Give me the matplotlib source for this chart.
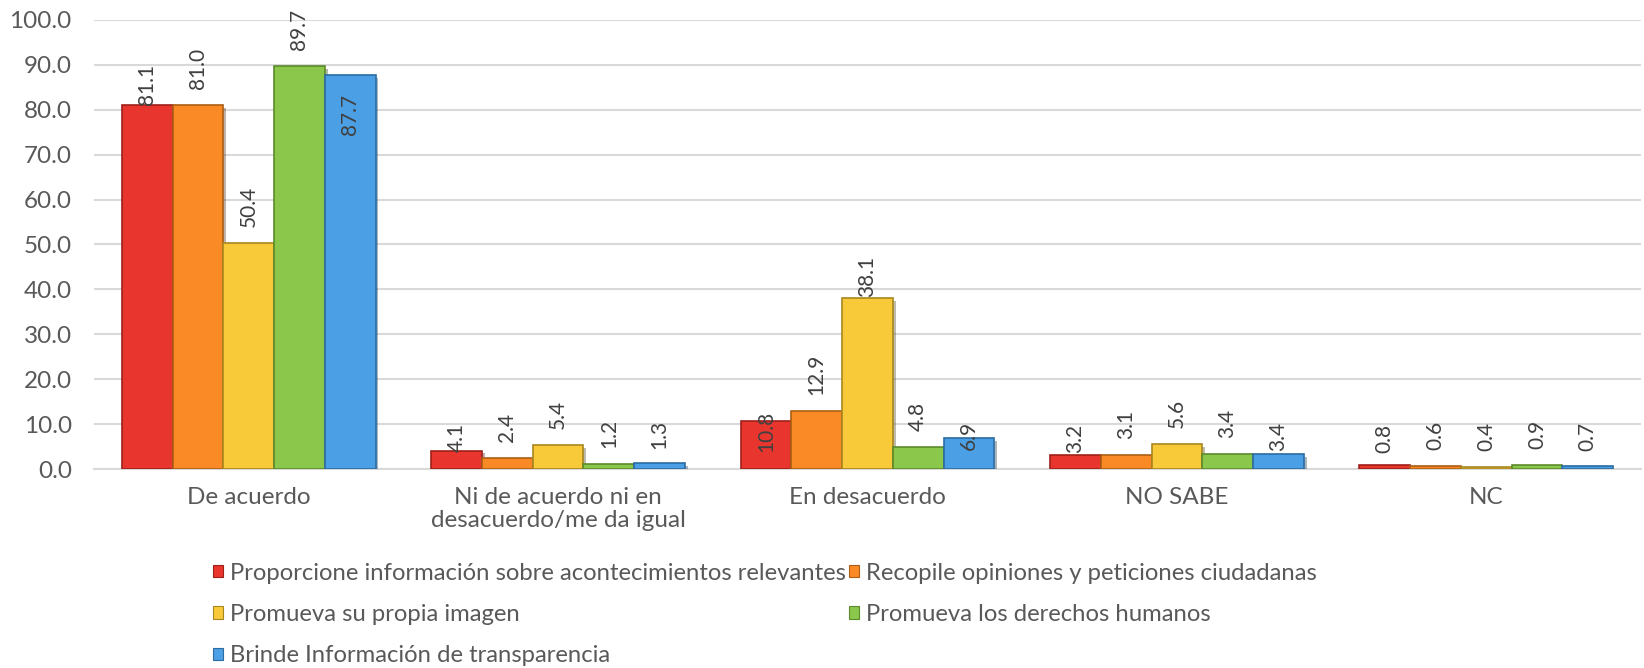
import matplotlib
matplotlib.use("Agg")
import matplotlib.pyplot as plt
import matplotlib.patheffects as pe
from matplotlib.patches import Patch
import numpy as np

plt.rcParams['font.family'] = ['Lato', 'DejaVu Sans']

categories = ["De acuerdo", "Ni de acuerdo ni en\ndesacuerdo/me da igual",
              "En desacuerdo", "NO SABE", "NC"]
series_names = [
    "Proporcione información sobre acontecimientos relevantes",
    "Recopile opiniones y peticiones ciudadanas",
    "Promueva su propia imagen",
    "Promueva los derechos humanos",
    "Brinde Información de transparencia",
]
proporcione = [81.1, 4.1, 10.8, 3.2, 0.8]
recopile = [81.0, 2.4, 12.9, 3.1, 0.6]
imagen = [50.4, 5.4, 38.1, 5.6, 0.4]
derechos = [89.7, 1.2, 4.8, 3.4, 0.9]
transparencia = [87.7, 1.3, 6.9, 3.4, 0.7]
values = [proporcione, recopile, imagen, derechos, transparencia]
yticks = [0, 10, 20, 30, 40, 50, 60, 70, 80, 90, 100]

face_colors = ['#E8352D', '#F98A25', '#F8CA3A', '#8AC74A', '#4B9FE4']
edge_colors = ['#9E2019', '#AD5E14', '#A8871F', '#5D8A2B', '#2B6CA3']

# manual label placement (gap in px between bar top and label start)
default_gap = 16
label_gap = {(0, 0): 0, (0, 1): -1, (0, 2): -31, (0, 3): 2, (0, 4): 12,
             (4, 0): -60, (4, 1): 14, (4, 2): -12, (4, 3): 3, (4, 4): 15,
             (2, 2): 1}

W, H = 1644, 668
fig = plt.figure(figsize=(W / 100, H / 100), dpi=100)
ax = fig.add_axes([94 / W, 1 - 469 / H, (1641 - 94) / W, (469 - 20) / H])

x = np.arange(len(categories))
bw = 0.164
for i, vals in enumerate(values):
    pos = x + (i - 2) * bw
    ax.bar(pos, vals, width=bw, color=face_colors[i],
           edgecolor=edge_colors[i], linewidth=1.2, zorder=3,
           path_effects=[pe.SimplePatchShadow(offset=(2, -2), alpha=0.35),
                         pe.Normal()])
    for j, (p, v) in enumerate(zip(pos, vals)):
        gap = label_gap.get((i, j), default_gap)
        ax.annotate(f"{v:.1f}", (p, v), xytext=(0, gap * 0.72),
                    textcoords='offset points', rotation=90,
                    ha='center', va='bottom', fontsize=15, color='#404040',
                    zorder=5)

ax.set_xlim(-0.5, len(categories) - 0.5)
ax.set_ylim(0, 100)
ax.set_yticks(yticks)
ax.set_yticklabels([f"{t:.1f}" for t in yticks])
ax.set_xticks(x)
ax.set_xticklabels(categories, linespacing=1.1)
ax.tick_params(axis='y', length=0, pad=16, labelsize=17.5, labelcolor='#595959')
ax.tick_params(axis='x', length=0, pad=13, labelsize=17.5, labelcolor='#595959')
ax.yaxis.grid(True, color='#D9D9D9', linewidth=1.5, zorder=0)
ax.set_axisbelow(True)
for s in ['top', 'right', 'left']:
    ax.spines[s].set_visible(False)
ax.spines['bottom'].set_color('#D9D9D9')
ax.spines['bottom'].set_linewidth(1.5)

handles = [Patch(facecolor=face_colors[i], edgecolor=edge_colors[i], linewidth=0.8)
           for i in range(5)]
order = [0, 2, 4, 1, 3]
leg = fig.legend([handles[k] for k in order], [series_names[k] for k in order],
                 ncol=2, loc='upper left', bbox_to_anchor=(213 / W, 1 - 563 / H),
                 frameon=False, fontsize=17.2, handlelength=0.4, handleheight=0.4,
                 handletextpad=0.3, columnspacing=0.15, labelspacing=0.84,
                 borderpad=0, borderaxespad=0)
for t in leg.get_texts():
    t.set_color('#595959')

fig.savefig("out.png", dpi=100, facecolor='white')
